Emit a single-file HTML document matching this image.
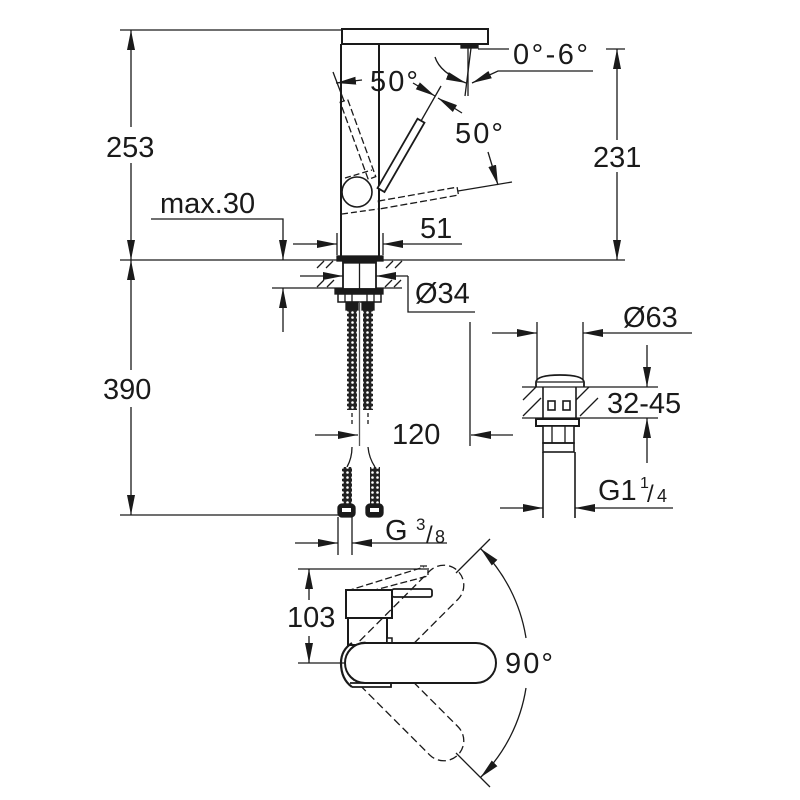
<!DOCTYPE html>
<html><head><meta charset="utf-8"><style>
html,body{margin:0;padding:0;background:#fff;}
svg{display:block;}
text{font-family:"Liberation Sans",Arial,sans-serif;fill:#1a1a1a;}
</style></head><body>
<svg width="800" height="800" viewBox="0 0 800 800" xmlns="http://www.w3.org/2000/svg">
<defs>
<marker id="a" viewBox="0 0 20 8" refX="20" refY="4" markerWidth="20" markerHeight="8" markerUnits="userSpaceOnUse" orient="auto-start-reverse"><path d="M0,0L20,4L0,8z" fill="#1a1a1a"/></marker>
<pattern id="br" width="5" height="5" patternUnits="userSpaceOnUse"><rect width="5" height="5" fill="#222"/><circle cx="2.5" cy="2.5" r="1.3" fill="#fff"/></pattern>
</defs>

<g stroke="#1a1a1a" stroke-width="1.3" fill="none">
<!-- left dims -->
<path d="M120,30H343"/>
<path d="M131,127V30" marker-end="url(#a)"/>
<path d="M131,163V260" marker-end="url(#a)"/>
<path d="M120,260H625"/>
<path d="M131,370V260" marker-end="url(#a)"/>
<path d="M131,407V515" marker-end="url(#a)"/>
<path d="M120,515H340"/>
<path d="M151,219H283V260" marker-end="url(#a)"/>
<path d="M283,332V288" marker-end="url(#a)"/>
<path d="M272,288H343"/>
<path d="M376,288H402"/>

<!-- 51 -->
<path d="M293,244H337" marker-end="url(#a)"/>
<path d="M462,244H383" marker-end="url(#a)"/>
<path d="M337,233V255M383,233V255"/>

<!-- 231 -->
<path d="M617,140V49" marker-end="url(#a)"/>
<path d="M617,172V260" marker-end="url(#a)"/>
<path d="M478,49H509M606,49H625"/>

<!-- 0-6 deg -->
<path d="M468,48V96"/>
<path d="M471,48L465,96"/>
<path d="M435,57Q440,73 466,83" marker-end="url(#a)"/>
<path d="M593,71H498L472,83" marker-end="url(#a)"/>

<!-- spout & body -->
<rect x="342" y="29" width="146" height="15" stroke-width="2" fill="#fff"/>
<rect x="461" y="44" width="17" height="4" fill="#1a1a1a"/>
<path d="M341,44V257M379,44V257" stroke-width="2"/>
<rect x="337" y="256" width="46" height="5" fill="#1a1a1a"/>

<!-- dashed levers -->
<rect x="0" y="-4" width="82" height="8" transform="translate(372,178) rotate(-110)" stroke-dasharray="7,3"/>
<path d="M344,101L333,72"/>
<rect x="0" y="-4" width="80" height="8" transform="translate(379,205) rotate(-10)" stroke-dasharray="7,3"/>
<path d="M458,191L512,182"/>
<path d="M342,214L378,209M345,178L372,170" stroke-dasharray="6,3"/>

<circle cx="357" cy="192" r="15" stroke-width="1.6" fill="#fff"/>
<rect x="0" y="-4" width="80" height="8" transform="translate(381,190) rotate(-60)" stroke-width="1.8" fill="#fff"/>
<path d="M421,121L441,86"/>

<path d="M362,80L336,83" marker-end="url(#a)"/>
<path d="M413,83L435,96" marker-end="url(#a)"/>
<path d="M462,113L438,98" marker-end="url(#a)"/>
<path d="M488,152L498,185" marker-end="url(#a)"/>

<!-- deck hatch -->
<path d="M317,268L324,261M326,268L333,261M317,287L324,280M327,287L334,280"/>
<path d="M386,268L393,261M395,268L402,261M385,287L392,280M394,287L401,280"/>

<!-- shank -->
<rect x="343" y="261" width="33" height="28" stroke-width="1.8" fill="#fff"/>
<rect x="343" y="259" width="33" height="4" fill="#1a1a1a"/>
<path d="M359.5,261V289"/>
<path d="M300,276H343" marker-end="url(#a)"/>
<path d="M408,276H376" marker-end="url(#a)"/>
<path d="M408,276V312H475"/>

<rect x="335" y="289" width="48" height="5" fill="#1a1a1a"/>
<rect x="338" y="294" width="43" height="8" stroke-width="1.5" fill="#fff"/>
<path d="M345,294V302M352,294V302M367,294V302M374,294V302"/>
<rect x="346" y="302" width="12" height="8" fill="#1a1a1a"/>
<rect x="362" y="302" width="12" height="8" fill="#1a1a1a"/>
<rect x="347" y="310" width="10" height="100" fill="url(#br)" stroke="none"/>
<rect x="363" y="310" width="10" height="100" fill="url(#br)" stroke="none"/>
<path d="M359.5,302V446" stroke="#555"/>
<path d="M352,413V426M368,413V426" stroke-dasharray="4,3"/>
<path d="M352,447Q352,458 347,467M368,447Q369,458 375,467"/>
<rect x="342" y="467" width="10" height="38" fill="url(#br)" stroke="none"/>
<rect x="370" y="467" width="10" height="38" fill="url(#br)" stroke="none"/>
<rect x="338" y="504" width="17" height="13" rx="4" fill="#1a1a1a"/>
<rect x="342" y="508" width="9" height="4" fill="#fff" stroke="none"/>
<rect x="366" y="504" width="17" height="13" rx="4" fill="#1a1a1a"/>
<rect x="370" y="508" width="9" height="4" fill="#fff" stroke="none"/>

<!-- 120 -->
<path d="M315,435H358" marker-end="url(#a)"/>
<path d="M513,435H471" marker-end="url(#a)"/>
<path d="M470,322V446"/>

<!-- drain -->
<path d="M537,322V380M583,322V380"/>
<path d="M492,333H537" marker-end="url(#a)"/>
<path d="M692,333H583" marker-end="url(#a)"/>
<path d="M536,387V382Q537,375 560,375Q583,375 584,382V387" stroke-width="1.8" fill="#fff"/>
<path d="M537,382H583"/>
<path d="M522,387H658M522,418H658"/>
<path d="M543,387V418M576,387V418" stroke-width="1.6"/>
<rect x="548" y="401" width="7" height="9" stroke-width="1.6"/>
<rect x="563" y="401" width="7" height="9" stroke-width="1.6"/>
<path d="M523,400L536,387M523,416L541,398M576,400L589,387M580,416L598,398"/>
<rect x="536" y="419" width="43" height="7" stroke-width="2" fill="#fff"/>
<rect x="543" y="426" width="31" height="17" stroke-width="1.6" fill="#fff"/>
<path d="M552,426V443M565,426V443"/>
<rect x="543" y="443" width="31" height="9" stroke-width="1.6"/>
<path d="M543,452V518M575,452V518" stroke-width="1.6"/>
<path d="M500,508H543" marker-end="url(#a)"/>
<path d="M673,508H575" marker-end="url(#a)"/>
<path d="M647,345V387" marker-end="url(#a)"/>
<path d="M647,463V418" marker-end="url(#a)"/>

<!-- plan view -->
<path d="M338,517V555M352,517V555"/>
<path d="M295,543H338" marker-end="url(#a)"/>
<path d="M447,543H352" marker-end="url(#a)"/>
<path d="M298,569H427M298,663H345"/>
<path d="M309,600V569" marker-end="url(#a)"/>
<path d="M309,636V663" marker-end="url(#a)"/>

<path d="M526,638A162,162 0 0 0 480.5,548.5" marker-end="url(#a)"/>
<path d="M526,688A162,162 0 0 1 480.5,777.5" marker-end="url(#a)"/>
<path d="M456,573L490,539M456,753L490,787"/>

<path d="M347,591L424,567M352,596L428,576M420,566H428V576" stroke-dasharray="7,3"/>
<rect x="392" y="589" width="40" height="8" rx="2" stroke-width="1.8" fill="#fff"/>
<rect x="346" y="590" width="46" height="28" stroke-width="2" fill="#fff"/>
<rect x="348" y="618" width="39" height="27" stroke-width="2" fill="#fff"/>
<rect x="387" y="638" width="5" height="7" stroke-width="1.5" fill="#fff"/>

<rect x="345" y="643" width="151" height="40" rx="20" transform="rotate(-45 366 663)" stroke-dasharray="8,4"/>
<rect x="345" y="643" width="151" height="40" rx="20" transform="rotate(45 366 663)" stroke-dasharray="8,4"/>

<path d="M350,683H391V687H352" stroke-width="1.8" fill="#fff"/>
<rect x="345" y="643" width="151" height="40" rx="20" stroke-width="2" fill="#fff"/>
<path d="M352,643Q341,650 341,663Q341,679 352,687" stroke-width="2.2"/>
</g>

<g font-size="29">
<text x="106" y="157">253</text>
<text x="160" y="213">max.30</text>
<text x="103" y="399">390</text>
<text x="420" y="238">51</text>
<text x="370" y="91" textLength="48" lengthAdjust="spacing">50°</text>
<text x="455" y="143" textLength="48" lengthAdjust="spacing">50°</text>
<text x="513" y="64" textLength="75" lengthAdjust="spacing">0°-6°</text>
<text x="593" y="167">231</text>
<text x="415" y="303">Ø34</text>
<text x="392" y="444">120</text>
<text x="623" y="327">Ø63</text>
<text x="607" y="413">32-45</text>
<text x="598" y="500">G1</text>
<text x="640" y="488" font-size="16">1</text>
<text x="647" y="502" font-size="24">/</text>
<text x="657" y="502" font-size="18">4</text>
<text x="385" y="540">G</text>
<text x="416" y="530" font-size="17">3</text>
<text x="426" y="543" font-size="24">/</text>
<text x="435" y="543" font-size="18">8</text>
<text x="287" y="627">103</text>
<text x="505" y="673" textLength="48" lengthAdjust="spacing">90°</text>
</g>
</svg>
</body></html>
